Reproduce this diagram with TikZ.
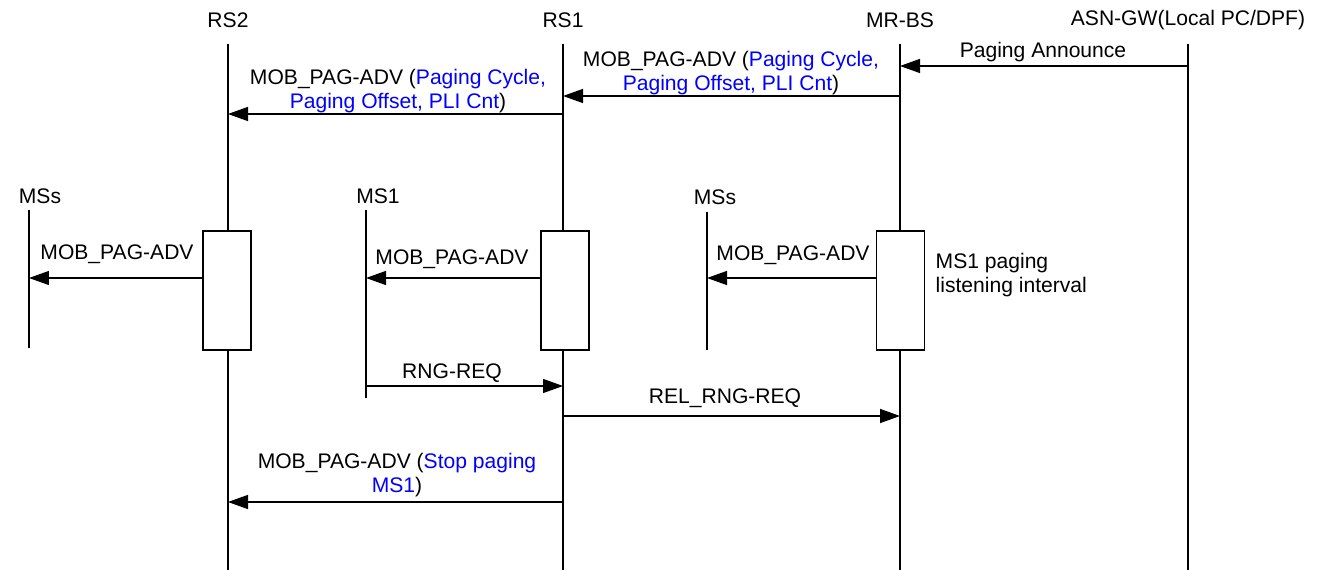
\documentclass[tikz,border=0pt]{standalone}
\usepackage{fontspec}
\setmainfont{Liberation Sans}
\usetikzlibrary{arrows.meta}
\definecolor{parblue}{RGB}{0,0,255}
\tikzset{
  msg/.style={-{Triangle[length=0.4cm,width=0.28cm]}},
  lbl/.style={font=\fontsize{12}{13.5}\selectfont, inner sep=0pt},
  actbox/.style={draw, fill=white, inner sep=0pt, minimum width=0.96cm, minimum height=2.38cm},
}
\newcommand{\pv}[1]{\textcolor{parblue}{#1}}

\begin{document}
\begin{tikzpicture}[x=0.02cm,y=-0.02cm,line width=0.8pt]
\useasboundingbox (0,0) rectangle (1317,570);
% entities
\node[lbl] (rs2) at (228,20) {RS2};
\node[lbl] (rs1) at (563,20) {RS1};
\node[lbl] (mrbs) at (900,20) {MR-BS};
\node[lbl] (asn) at (1188,20) {ASN-GW(Local PC/DPF)};
\node[lbl] (mssa) at (40,196) {MSs};
\node[lbl] (ms1) at (378,196) {MS1};
\node[lbl] (mssb) at (715,197) {MSs};
% lifelines
\coordinate (rs2t) at (228,44); \coordinate (rs2b) at (228,570);
\coordinate (rs1t) at (563,44); \coordinate (rs1b) at (563,570);
\coordinate (mrbst) at (900,44); \coordinate (mrbsb) at (900,570);
\coordinate (asnt) at (1188,44); \coordinate (asnb) at (1188,570);
\coordinate (mssat) at (29,210); \coordinate (mssab) at (29,348);
\coordinate (ms1t) at (366,210); \coordinate (ms1b) at (366,398);
\coordinate (mssbt) at (707,212); \coordinate (mssbb) at (707,350);
\draw (rs2t) -- (rs2b);
\draw (rs1t) -- (rs1b);
\draw (mrbst) -- (mrbsb);
\draw (asnt) -- (asnb);
\draw (mssat) -- (mssab);
\draw (ms1t) -- (ms1b);
\draw (mssbt) -- (mssbb);
% paging announce
\draw[msg] (asnt |- 0,66) -- (mrbst |- 0,66);
\node[lbl] (pa) at (1043,52) {Paging Announce};
\draw[msg] (mrbst |- 0,96) -- (rs1t |- 0,96);
\node[lbl, align=center] (adv1) at (731,73) {MOB\_PAG-ADV (\pv{Paging Cycle,}\\\pv{Paging Offset, PLI Cnt})};
\draw[msg] (rs1t |- 0,114) -- (rs2t |- 0,114);
\node[lbl, align=center] (adv2) at (398,91) {MOB\_PAG-ADV (\pv{Paging Cycle,}\\\pv{Paging Offset, PLI Cnt})};
% listening interval
\node[actbox] (box2) at (227,290.5) {};
\node[actbox] (box1) at (565,290.5) {};
\node[actbox] (boxm) at (900.5,290.5) {};
\draw[msg] (box2.west |- 0,278) -- (mssat |- 0,278);
\node[lbl] (adv3) at (117,254) {MOB\_PAG-ADV};
\draw[msg] (box1.west |- 0,278) -- (ms1t |- 0,278);
\node[lbl] (adv4) at (452,259) {MOB\_PAG-ADV};
\draw[msg] (boxm.west |- 0,278) -- (mssbt |- 0,278);
\node[lbl] (adv5) at (793,255) {MOB\_PAG-ADV};
\node[lbl, align=left, anchor=west] (intv) at (935,275) {MS1 paging\\listening interval};
% ranging
\draw[msg] (ms1t |- 0,386) -- (rs1t |- 0,386);
\node[lbl] (rng) at (452,373) {RNG-REQ};
\draw[msg] (rs1t |- 0,416) -- (mrbst |- 0,416);
\node[lbl] (rel) at (725,398) {REL\_RNG-REQ};
\draw[msg] (rs1t |- 0,502) -- (rs2t |- 0,502);
\node[lbl, align=center] (adv6) at (397,475) {MOB\_PAG-ADV (\pv{Stop paging}\\\pv{MS1})};
\end{tikzpicture}
\end{document}
